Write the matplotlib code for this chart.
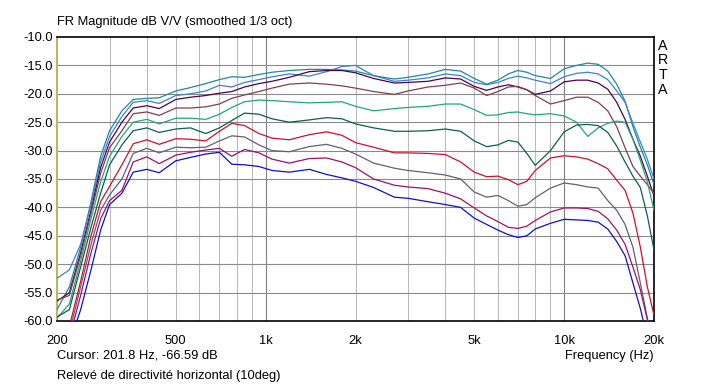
import matplotlib
matplotlib.use("Agg")
import matplotlib.pyplot as plt
import numpy as np

# ---------------- data ----------------
freq = [200, 220, 240, 260, 280, 300, 330, 360, 400, 440, 500, 560, 630, 700, 770, 850,
        950, 1050, 1200, 1400, 1600, 1800, 2000, 2300, 2700, 3000, 3500, 4000, 4500, 5000,
        5500, 6000, 6500, 7000, 7500, 8000, 9000, 10000, 11000, 12000, 13000, 14000,
        15000, 16000, 17000, 18000, 19000, 20000]

teal = [-58, -54, -47, -39, -31, -26.5, -23, -21, -20.8, -20.7, -19.5, -18.9, -18.2, -17.5, -17, -17.1,
        -16.6, -16.2, -15.9, -15.7, -15.7, -15.8, -16, -16.8, -17.4, -17.1, -16.5, -15.7, -16.0, -17.3,
        -18.3, -17.6, -16.5, -15.9, -16.2, -16.8, -17.3, -15.6, -15.0, -14.6, -14.8, -16.0,
        -18.3, -21.3, -25.8, -29.4, -32.5, -36.0]
lightblue = [-52.5, -51, -46.5, -39.5, -32, -27.5, -24, -21.5, -21.2, -21.7, -20.3, -20, -19.5, -18.5, -18.8, -18,
             -17.5, -17, -16.5, -16.9, -16.1, -15.2, -15.0, -16.8, -17.8, -17.6, -17.2, -16.5, -16.8, -18.0,
             -18.4, -18.0, -17.3, -16.9, -17.2, -17.6, -18.2, -17.0, -16.4, -16.2, -16.5, -17.5,
             -19.5, -21.5, -25.2, -28.5, -31.5, -35.0]
purple = [-56.5, -55, -48, -40.5, -33, -28.5, -25, -22.5, -22.1, -22.6, -21, -20.6, -20.3, -19.9, -19.6, -18.8,
          -18.2, -17.8, -17.1, -16.1, -15.9, -15.9, -16.3, -17.3, -18.1, -18.0, -17.8, -17.2, -17.4, -18.7,
          -19.4, -18.8, -18.4, -18.8, -19.3, -20.1, -19.5, -17.9, -17.6, -17.6, -18.1, -19.2,
          -21.5, -24.5, -28.0, -31.0, -34.5, -38.0]
brown = [-56.3, -55.5, -48.5, -41, -34, -29.5, -26.5, -23.5, -23.2, -23.8, -22.5, -22.5, -22.3, -21.8, -20.8, -20.2,
         -19.6, -19.0, -18.3, -18.1, -18.3, -18.6, -19.0, -19.6, -20.1, -19.5, -18.8, -18.5, -18.1, -19.0,
         -20.3, -19.6, -18.8, -18.7, -19.3, -20.3, -21.8, -21.2, -20.6, -20.6, -21.5, -23.0,
         -25.8, -29.5, -32.8, -34.5, -36.0, -37.5]
green = [-59.5, -57, -49.5, -42, -35.5, -31, -27.5, -25, -24.5, -25.3, -24.3, -24.3, -24.5, -23.6, -22.4, -21.4,
         -21.1, -21.2, -21.4, -21.6, -21.5, -21.4, -22.2, -23.0, -22.6, -22.4, -22.2, -21.8, -21.8, -22.8,
         -23.8, -23.7, -23.3, -23.2, -23.5, -23.7, -23.5, -23.9, -25.0, -27.5, -26.0, -25.2,
         -24.8, -25.0, -28.0, -31.7, -35.5, -40.5]
darkteal = [-59.3, -58, -50.5, -43.5, -37.5, -32.5, -29, -26.5, -26, -26.8, -26.2, -26, -27, -26, -24.7, -23.4,
            -23.6, -24.4, -25.0, -24.6, -24.2, -24.4, -25.3, -26.0, -26.6, -26.6, -26.5, -26.2, -26.6, -28.3,
            -29.3, -29.0, -28.2, -28.5, -30.5, -32.6, -30.0, -26.7, -25.5, -25.4, -25.6, -26.8,
            -29.2, -32.0, -34.5, -36.5, -41.5, -47.5]
red = [-62, -61, -53, -45, -39, -36.3, -32.5, -28.8, -28.1, -28.9, -27.9, -28, -28.3, -26.6, -25.2, -25.6,
       -27, -27.8, -28.1, -27.2, -26.7, -27.3, -28.6, -29.4, -30.4, -30.4, -30.5, -30.7, -32.0, -33.8,
       -34.6, -34.5, -35.1, -36.0, -35.4, -33.5, -31.3, -30.9, -31.1, -31.5, -32.3, -33.2,
       -35.2, -37.0, -41.0, -47.0, -54.0, -59.0]
gray = [-63, -62, -54, -46.5, -40.5, -37.8, -35, -30.5, -29.6, -30.4, -29.4, -29.5, -29.4, -28.3, -27.4, -27.6,
        -29, -30, -30.2, -29.3, -28.9, -29.6, -30.6, -32.2, -33.1, -33.5, -33.9, -34.3, -35.0, -37.3,
        -38.2, -37.9, -38.8, -39.8, -39.5, -38.3, -36.6, -35.7, -36.0, -36.4, -36.6, -38.8,
        -40.5, -43.0, -47.0, -53.3, -59.5, -65.0]
magenta = [-64, -63, -55.5, -48, -42, -38.8, -37, -32, -31.1, -32.3, -30.8, -30.3, -29.9, -29.6, -31, -29.8,
           -30.4, -31.5, -32.2, -31.4, -31.3, -32, -33, -35.0, -36.1, -36.4, -36.7, -37.5, -38.5, -40.1,
           -41.5, -42.5, -43.5, -43.7, -43.3, -42.3, -40.8, -40.1, -40.1, -40.2, -40.7, -42.0,
           -44.0, -46.5, -50.5, -54.5, -59.8, -65.0]
blue = [-67, -64, -58, -51, -44, -39.5, -37.5, -33.8, -33.3, -33.9, -31.8, -31.2, -30.6, -30.3, -32.4, -32.5,
        -32.8, -33.5, -33.8, -33.3, -34.2, -34.8, -35.4, -36.5, -38.2, -38.4, -39.0, -39.5, -40.0, -41.9,
        -43.0, -44.0, -44.8, -45.3, -45.0, -43.8, -42.8, -42.1, -42.2, -42.3, -42.6, -43.8,
        -46.0, -48.5, -53.3, -57.8, -63.0, -68.0]

series = [teal, lightblue, purple, brown, green, darkteal, red, gray, magenta, blue]
colors = ['#1e8a9c', '#3a82d6', '#50004e', '#804050', '#20a878', '#0e5e50',
          '#d0102a', '#606078', '#a0106a', '#1010c8']

yticks = [-10.0, -15.0, -20.0, -25.0, -30.0, -35.0, -40.0, -45.0, -50.0, -55.0, -60.0]
xtick_vals = [200, 500, 1000, 2000, 5000, 10000, 20000]
xtick_labels = ['200', '500', '1k', '2k', '5k', '10k', '20k']
minor_grid = [300, 400, 500, 600, 700, 800, 900, 2000, 3000, 4000, 5000, 6000, 7000, 8000, 9000]
major_grid = [1000, 10000]

# ---------------- figure ----------------
plt.rcParams['font.family'] = ['Liberation Sans', 'DejaVu Sans']
fs = 9.3
fig = plt.figure(figsize=(7.10, 3.85), dpi=100)
fig.patch.set_facecolor('white')
ax = fig.add_axes([57/710, 1-321/385, (654-57)/710, (321-37)/385])
ax.set_xscale('log')
ax.set_xlim(200, 20000)
ax.set_ylim(-60, -10)

for f in minor_grid:
    ax.axvline(f, color='#bcbcbc', lw=0.8, zorder=1)
for f in major_grid:
    ax.axvline(f, color='#808080', lw=0.8, zorder=1)
for y in yticks[1:-1]:
    ax.axhline(y, color='#8a8a8a', lw=0.8, zorder=1)

for s, c in zip(series, colors):
    ax.plot(freq, s, color=c, lw=0.9, zorder=3)

ax.set_yticks(yticks)
ax.set_yticklabels(['%.1f' % v for v in yticks], fontsize=fs)
ax.set_xticks(xtick_vals)
ax.set_xticklabels(xtick_labels, fontsize=fs)
ax.xaxis.set_minor_locator(matplotlib.ticker.NullLocator())
ax.tick_params(axis='x', length=0, pad=10)
ax.tick_params(axis='y', length=0, pad=3)
for sp in ['top', 'right', 'bottom']:
    ax.spines[sp].set_color('black')
    ax.spines[sp].set_linewidth(1.2)
ax.spines['left'].set_color('#b8b860')
ax.spines['left'].set_linewidth(1.5)

fig.text(57/710, 1-22/385, 'FR Magnitude dB V/V (smoothed 1/3 oct)', fontsize=fs, va='center', ha='left')
fig.text(57/710, 1-356/385, 'Cursor: 201.8 Hz, -66.59 dB', fontsize=fs, va='center', ha='left')
fig.text(654/710, 1-356/385, 'Frequency (Hz)', fontsize=fs, va='center', ha='right')
fig.text(57/710, 1-376/385, 'Relevé de directivité horizontal (10deg)', fontsize=fs, va='center', ha='left')
for i, ch in enumerate('ARTA'):
    fig.text(663/710, 1-(46 + i*14.5)/385, ch, fontsize=fs + 1, va='center', ha='center')

fig.savefig('out.png', dpi=100, facecolor='white')
